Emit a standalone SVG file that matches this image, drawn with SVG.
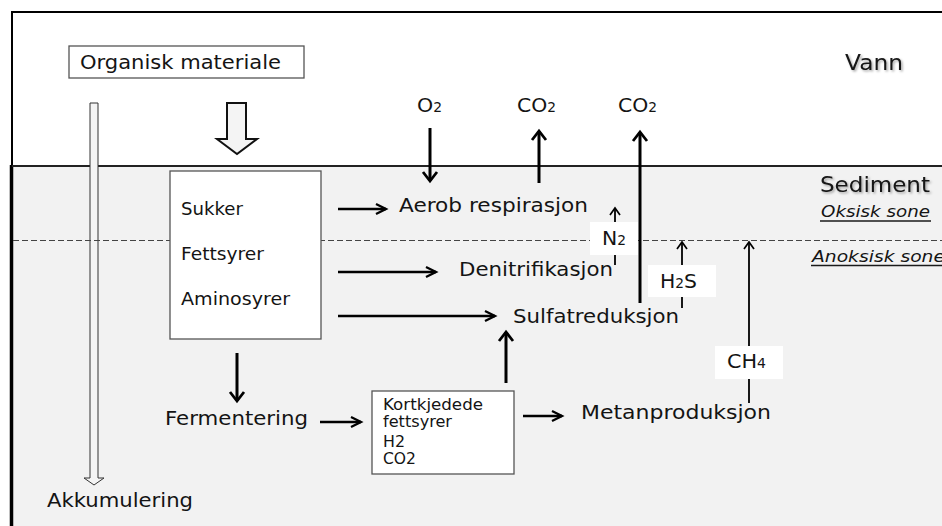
<svg xmlns="http://www.w3.org/2000/svg" width="942" height="526" viewBox="0 0 942 526">
<style>
text{font-family:"DejaVu Sans","Liberation Sans",sans-serif;fill:#141414}
.lbl{font-size:20px}
.sm{font-size:17.5px}
.tiny{font-size:15px}
.zone{font-size:16.5px;font-style:italic}
.hdr{font-size:21px;filter:url(#sh)}
.box{fill:#fff;stroke:#555;stroke-width:1.3}
.wbox{fill:#fff;stroke:none}
.c{stroke:#000;fill:none}
.th{stroke-width:3}
.md{stroke-width:2.5}
.tn{stroke-width:1.8}
.hollow{stroke:#111;stroke-width:2;fill:#f4f4f4;stroke-linejoin:miter}
.acc{stroke:#333;stroke-width:1;fill:#f4f4f4}
</style>
<defs>
<filter id="sh" x="-20%" y="-40%" width="140%" height="180%">
<feDropShadow dx="1.5" dy="1.5" stdDeviation="1" flood-color="#000" flood-opacity="0.35"/>
</filter>
<marker id="ahb" viewBox="-12 -9 14 18" refX="0" refY="0" markerWidth="14" markerHeight="18" markerUnits="userSpaceOnUse" orient="auto" overflow="visible">
<path d="M-9,-7 L0,0 L-9,7" fill="none" stroke="#000" stroke-width="2.8"/>
</marker>
<marker id="ahm" viewBox="-12 -8 14 16" refX="0" refY="0" markerWidth="14" markerHeight="16" markerUnits="userSpaceOnUse" orient="auto" overflow="visible">
<path d="M-10,-5 L0,0 L-10,5" fill="none" stroke="#000" stroke-width="2.3"/>
</marker>
<marker id="ahs" viewBox="-10 -7 12 14" refX="0" refY="0" markerWidth="12" markerHeight="14" markerUnits="userSpaceOnUse" orient="auto" overflow="visible">
<path d="M-7,-5 L0,0 L-7,5" fill="none" stroke="#000" stroke-width="1.7"/>
</marker>
</defs>

<g id="frame">
<rect x="0" y="0" width="942" height="526" fill="#fff"/>
<rect x="12" y="166" width="930" height="360" fill="#f2f2f2"/>
<line x1="12" y1="12" x2="942" y2="12" stroke="#000" stroke-width="2"/>
<line x1="12" y1="11" x2="12" y2="166" stroke="#000" stroke-width="2"/>
<line x1="11.5" y1="165" x2="11.5" y2="526" stroke="#000" stroke-width="3.5"/>
<line x1="12" y1="166" x2="942" y2="166" stroke="#222" stroke-width="2"/>
</g>

<g id="accumulation-arrow">
<polygon class="acc" points="90,103 98,103 98,478 104,478 94,485 84,478 90,478"/>
</g>

<g id="zone-boundary">
<line x1="13" y1="240.5" x2="942" y2="240.5" stroke="#444" stroke-width="1" stroke-dasharray="6,3"/>
</g>

<g id="vann"><text class="hdr" x="845" y="70" textLength="58" lengthAdjust="spacingAndGlyphs">Vann</text></g>
<g id="sediment"><text class="hdr" x="820" y="192" textLength="110" lengthAdjust="spacingAndGlyphs">Sediment</text></g>
<g id="oksisk-sone">
<text class="zone" x="821" y="217" textLength="109" lengthAdjust="spacingAndGlyphs">Oksisk sone</text>
<line x1="820" y1="221" x2="931" y2="221" stroke="#1a1a1a" stroke-width="1.3"/>
</g>
<g id="anoksisk-sone">
<text class="zone" x="812" y="262" textLength="133" lengthAdjust="spacingAndGlyphs">Anoksisk sone</text>
<line x1="811" y1="265.5" x2="942" y2="265.5" stroke="#1a1a1a" stroke-width="1.3"/>
</g>

<g id="organisk-materiale">
<rect class="box" x="69" y="46" width="235" height="32"/>
<text class="lbl" x="80" y="69" textLength="201" lengthAdjust="spacingAndGlyphs">Organisk materiale</text>
</g>

<g id="monomerer">
<rect class="box" x="170" y="171" width="151" height="168"/>
<text class="sm" x="181" y="215" textLength="62" lengthAdjust="spacingAndGlyphs">Sukker</text>
<text class="sm" x="181" y="260" textLength="83" lengthAdjust="spacingAndGlyphs">Fettsyrer</text>
<text class="sm" x="181" y="305" textLength="109" lengthAdjust="spacingAndGlyphs">Aminosyrer</text>
</g>

<g id="o2"><text class="lbl" x="417" y="112" textLength="25" lengthAdjust="spacingAndGlyphs">O<tspan font-size="13.5">2</tspan></text></g>
<g id="co2-a"><text class="lbl" x="517" y="112" textLength="39" lengthAdjust="spacingAndGlyphs">CO<tspan font-size="13.5">2</tspan></text></g>
<g id="co2-b"><text class="lbl" x="618" y="112" textLength="39" lengthAdjust="spacingAndGlyphs">CO<tspan font-size="13.5">2</tspan></text></g>

<g id="aerob-respirasjon"><text class="lbl" x="399" y="212" textLength="189" lengthAdjust="spacingAndGlyphs">Aerob respirasjon</text></g>
<g id="denitrifikasjon"><text class="lbl" x="459" y="276" textLength="154" lengthAdjust="spacingAndGlyphs">Denitrifikasjon</text></g>
<g id="sulfatreduksjon"><text class="lbl" x="513" y="323" textLength="166" lengthAdjust="spacingAndGlyphs">Sulfatreduksjon</text></g>
<g id="fermentering"><text class="lbl" x="165" y="425" textLength="143" lengthAdjust="spacingAndGlyphs">Fermentering</text></g>
<g id="metanproduksjon"><text class="lbl" x="581" y="419" textLength="190" lengthAdjust="spacingAndGlyphs">Metanproduksjon</text></g>
<g id="akkumulering"><text class="lbl" x="47" y="507" textLength="146" lengthAdjust="spacingAndGlyphs">Akkumulering</text></g>

<g id="kortkjedede">
<rect class="box" x="372" y="391" width="142" height="83"/>
<text class="tiny" x="383" y="410" textLength="100" lengthAdjust="spacingAndGlyphs">Kortkjedede</text>
<text class="tiny" x="383" y="427" textLength="69" lengthAdjust="spacingAndGlyphs">fettsyrer</text>
<text class="tiny" x="383" y="447" textLength="22" lengthAdjust="spacingAndGlyphs">H2</text>
<text class="tiny" x="383" y="464" textLength="33" lengthAdjust="spacingAndGlyphs">CO2</text>
</g>

<g id="connectors">
<polygon class="hollow" points="227,103 246,103 246,139 257,139 237,154 217,139 227,139"/>
<line class="c th" x1="430" y1="128" x2="430" y2="181" marker-end="url(#ahb)"/>
<line class="c th" x1="539" y1="183" x2="539" y2="131" marker-end="url(#ahb)"/>
<line class="c th" x1="640" y1="303" x2="640" y2="132" marker-end="url(#ahb)"/>
<line class="c md" x1="338" y1="209" x2="386" y2="209" marker-end="url(#ahm)"/>
<line class="c md" x1="338" y1="272" x2="436" y2="272" marker-end="url(#ahm)"/>
<line class="c md" x1="338" y1="316" x2="495" y2="316" marker-end="url(#ahm)"/>
<line class="c th" x1="237" y1="353" x2="237" y2="401" marker-end="url(#ahb)"/>
<line class="c md" x1="320" y1="422" x2="361" y2="422" marker-end="url(#ahm)"/>
<line class="c th" x1="506" y1="383" x2="506" y2="332" marker-end="url(#ahb)"/>
<line class="c md" x1="523" y1="416" x2="562" y2="416" marker-end="url(#ahm)"/>
<line class="c tn" x1="615" y1="265" x2="615" y2="208" marker-end="url(#ahs)"/>
<line class="c tn" x1="682" y1="308" x2="682" y2="242" marker-end="url(#ahs)"/>
<line class="c tn" x1="749" y1="403" x2="749" y2="242" marker-end="url(#ahs)"/>
</g>

<g id="n2">
<rect class="wbox" x="590" y="222" width="48" height="33"/>
<text class="lbl" x="602" y="245" textLength="24" lengthAdjust="spacingAndGlyphs">N<tspan font-size="13.5">2</tspan></text>
</g>
<g id="h2s">
<rect class="wbox" x="648" y="265" width="68" height="32"/>
<text class="lbl" x="660" y="288" textLength="37" lengthAdjust="spacingAndGlyphs">H<tspan font-size="13.5">2</tspan>S</text>
</g>
<g id="ch4">
<rect class="wbox" x="715" y="346" width="68" height="33"/>
<text class="lbl" x="727" y="368" textLength="39" lengthAdjust="spacingAndGlyphs">CH<tspan font-size="13.5">4</tspan></text>
</g>
</svg>
